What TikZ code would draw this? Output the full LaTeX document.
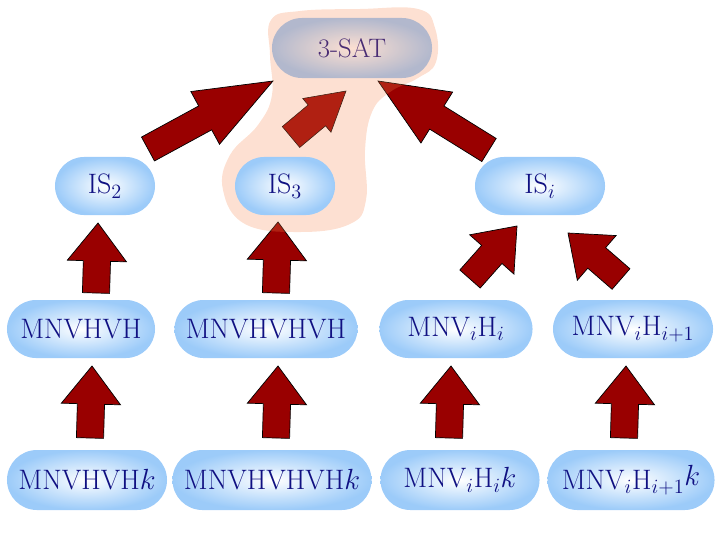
\documentclass[tikz,border=0pt]{standalone}
\usetikzlibrary{calc,shapes.misc}

\definecolor{nodeblue}{RGB}{156,203,249}
\definecolor{nodetext}{RGB}{16,16,130}
\definecolor{arrowred}{RGB}{153,0,0}
\definecolor{blobbase}{RGB}{247,131,75}

% block arrow: [style]{tail}{tip}{head length}{head half width}
\newcommand{\blockarrow}[5][]{%
  \draw[#1] (#2) -- ($(#2)!0.34cm!90:(#3)$)
    -- ($(#3)!#4!(#2)!0.34cm!90:(#3)$)
    -- ($(#3)!#4!(#2)!#5!90:(#3)$)
    -- (#3)
    -- ($(#3)!#4!(#2)!#5!-90:(#3)$)
    -- ($(#3)!#4!(#2)!0.34cm!-90:(#3)$)
    -- ($(#2)!0.34cm!-90:(#3)$) -- cycle;}

\begin{document}
\begin{tikzpicture}[x=0.025cm, y=-0.025cm,
  box/.style={rounded rectangle, inner sep=0pt, minimum height=1.45cm,
    inner color=white, outer color=nodeblue, text=nodetext,
    font=\fontsize{20}{24}\selectfont},
  arr/.style={fill=arrowred, draw=black, line width=0.5pt, line join=miter}]
  \useasboundingbox (0,0) rectangle (720,540);

  % Top problem, under the highlight.
  \node[box, minimum width=4cm, minimum height=1.5cm,
    font=\fontsize{19}{23}\selectfont] (sat) at (352,48) {3-SAT};

  % Arrow ends.
  \coordinate (a1t) at (148,149); \coordinate (a1h) at (273,81);
  \coordinate (a2t) at (489,150); \coordinate (a2h) at (378,81);
  \coordinate (a3t) at (291,137); \coordinate (a3h) at (346,91);
  \coordinate (b1t) at (96,293);  \coordinate (b1h) at (98,223);
  \coordinate (b2t) at (276,293); \coordinate (b2h) at (278,222);
  \coordinate (b3t) at (470,279); \coordinate (b3h) at (517,226);
  \coordinate (b4t) at (621,279); \coordinate (b4h) at (568,233);
  \coordinate (c1t) at (90,438);  \coordinate (c1h) at (92,366);
  \coordinate (c2t) at (276,438); \coordinate (c2h) at (278,366);
  \coordinate (c3t) at (449,438); \coordinate (c3h) at (451,366);
  \coordinate (c4t) at (624,438); \coordinate (c4h) at (626,366);

  % Reductions to 3-SAT.
  \blockarrow[fill=arrowred]{a3t}{a3h}{0.95cm}{0.55cm}
  \blockarrow[arr]{a1t}{a1h}{1.93cm}{0.75cm}
  \blockarrow[arr]{a2t}{a2h}{1.73cm}{0.75cm}

  % Lower arrows.
  \foreach \n in {b1,b2,b3,b4,c1,c2,c3,c4}
    \blockarrow[arr]{\n t}{\n h}{0.95cm}{0.74cm};

  % Highlight.
  \fill[blobbase, fill opacity=0.25] plot[smooth cycle, tension=0.7] coordinates {
    (271,20) (300,11) (360,9) (418,9) (435,28) (436,62) (418,78) (390,92)
    (372,112) (365,150) (366,200) (350,224) (300,232) (245,224) (223,190)
    (230,155) (258,125) (272,95) (270,55)};

  % Independent set nodes.
  \node[box, minimum width=2.5cm] (is2) at (105,186) {IS$_2$};
  \node[box, minimum width=2.5cm] (is3) at (285,186) {IS$_3$};
  \node[box, minimum width=3.25cm] (isi) at (540,186) {IS$_i$};

  % Middle row.
  \node[box, minimum width=3.7cm] (m1) at (81,329) {MNVHVH};
  \node[box, minimum width=4.575cm] (m2) at (266,329) {MNVHVHVH};
  \node[box, minimum width=3.825cm] (m3) at (456,329) {MNV$_i$H$_i$};
  \node[box, minimum width=4cm] (m4) at (633,329) {MNV$_i$H$_{i+1}$};

  % Bottom row.
  \node[box, minimum width=4cm, minimum height=1.5cm] (k1) at (87,480) {MNVHVH$k$};
  \node[box, minimum width=4.975cm, minimum height=1.5cm] (k2) at (272,480) {MNVHVHVH$k$};
  \node[box, minimum width=3.975cm, minimum height=1.5cm] (k3) at (460,480) {MNV$_i$H$_i$$k$};
  \node[box, minimum width=4.175cm, minimum height=1.5cm] (k4) at (631,480) {MNV$_i$H$_{i+1}$\raisebox{3pt}{$k$}};

\end{tikzpicture}
\end{document}
